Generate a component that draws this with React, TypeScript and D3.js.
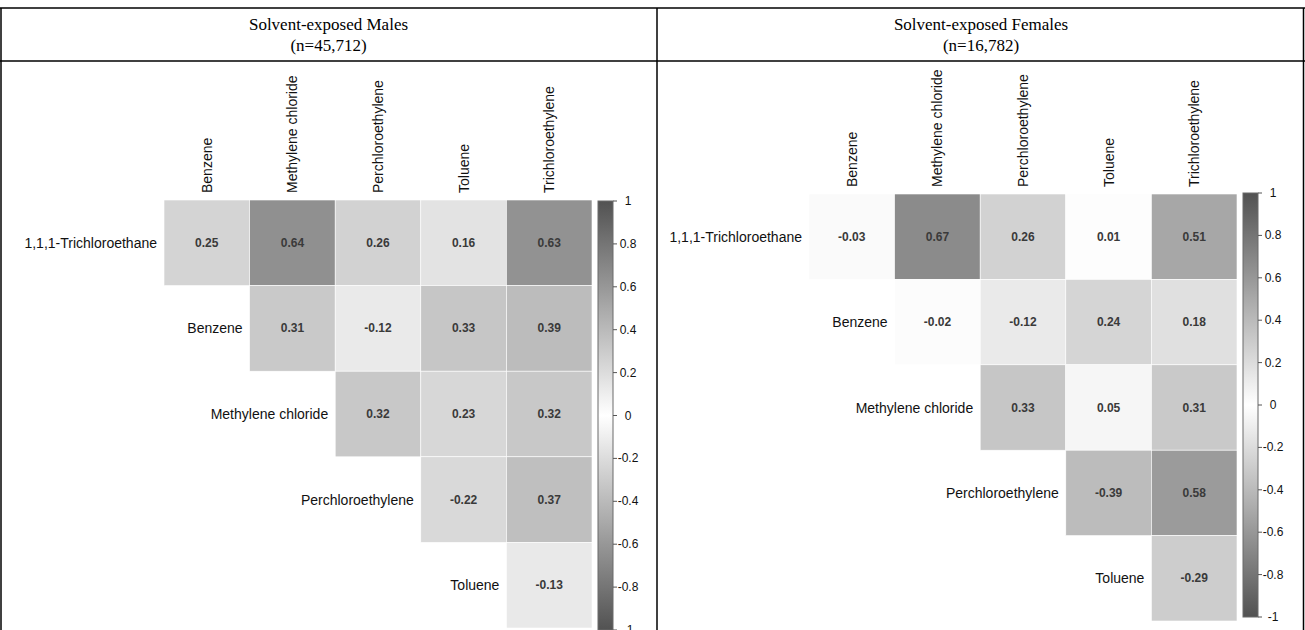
import React from "react";
import * as d3 from "d3";

const variables = [
  "1,1,1-Trichloroethane",
  "Benzene",
  "Methylene chloride",
  "Perchloroethylene",
  "Toluene",
  "Trichloroethylene",
];
const rowVars = variables.slice(0, 5);
const colVars = variables.slice(1);

// upper-triangle correlations, row i -> columns i..4 (colVars)
const malesCorr: number[][] = [
  [0.25, 0.64, 0.26, 0.16, 0.63],
  [0.31, -0.12, 0.33, 0.39],
  [0.32, 0.23, 0.32],
  [-0.22, 0.37],
  [-0.13],
];
const femalesCorr: number[][] = [
  [-0.03, 0.67, 0.26, 0.01, 0.51],
  [-0.02, -0.12, 0.24, 0.18],
  [0.33, 0.05, 0.31],
  [-0.39, 0.58],
  [-0.29],
];
const colorbarTicks = [1, 0.8, 0.6, 0.4, 0.2, 0, -0.2, -0.4, -0.6, -0.8, -1];
const panelTitles = ["Solvent-exposed Males", "Solvent-exposed Females"];
const panelNs = ["(n=45,712)", "(n=16,782)"];

const W = 1305;
const H = 630;
const SANS = "'Liberation Sans', Arial, sans-serif";
const SERIF = "'Liberation Serif', 'Times New Roman', serif";

const color = d3
  .scaleLinear<string>()
  .domain([-1, 0, 1])
  .range(["#525252", "#ffffff", "#525252"])
  .interpolate(d3.interpolateRgb);

const fmt = (v: number) => v.toFixed(2);

type PanelProps = {
  id: string;
  data: number[][];
  x0: number;
  x1: number;
  y0: number;
  y1: number;
  barX: number;
  barY0: number;
  barY1: number;
};

function CorrPanel({ id, data, x0, x1, y0, y1, barX, barY0, barY1 }: PanelProps) {
  const x = d3.scaleBand<string>().domain(colVars).range([x0, x1]);
  const y = d3.scaleBand<string>().domain(rowVars).range([y0, y1]);
  const bw = x.bandwidth();
  const bh = y.bandwidth();
  const cb = d3.scaleLinear().domain([-1, 1]).range([barY1, barY0]);
  const barW = 15;
  const gradStops = d3.range(-1, 1.0001, 0.1);

  const cells: React.ReactNode[] = [];
  data.forEach((row, i) => {
    row.forEach((v, k) => {
      const col = colVars[i + k];
      const rv = rowVars[i];
      cells.push(
        <g key={`${i}-${k}`}>
          <rect
            x={x(col)!}
            y={y(rv)!}
            width={bw}
            height={bh}
            fill={color(v)}
            stroke="#ffffff"
            strokeWidth={0.6}
          />
          <text
            x={x(col)! + bw / 2}
            y={y(rv)! + bh / 2}
            textAnchor="middle"
            dominantBaseline="central"
            fontFamily={SANS}
            fontWeight="bold"
            fontSize={12}
            fill="#3a3a3a"
          >
            {fmt(v)}
          </text>
        </g>
      );
    });
  });

  return (
    <g>
      <defs>
        <linearGradient id={`grad-${id}`} x1="0" y1="1" x2="0" y2="0">
          {gradStops.map((s, i) => (
            <stop key={i} offset={`${((s + 1) / 2) * 100}%`} stopColor={color(s)} />
          ))}
        </linearGradient>
      </defs>
      {cells}
      {colVars.map((c) => (
        <text
          key={c}
          transform={`translate(${x(c)! + bw / 2},${y0 - 7}) rotate(-90)`}
          dominantBaseline="central"
          fontFamily={SANS}
          fontSize={14}
          fill="#111"
        >
          {c}
        </text>
      ))}
      {rowVars.map((r, i) => (
        <text
          key={r}
          x={x(colVars[i])! - 7}
          y={y(r)! + bh / 2}
          textAnchor="end"
          dominantBaseline="central"
          fontFamily={SANS}
          fontSize={14}
          fill="#111"
        >
          {r}
        </text>
      ))}
      <rect
        x={barX}
        y={barY0}
        width={barW}
        height={barY1 - barY0}
        fill={`url(#grad-${id})`}
        stroke="#6a6a6a"
        strokeWidth={1}
      />
      {colorbarTicks.map((t) => (
        <g key={t}>
          <line x1={barX + barW} x2={barX + barW + 4} y1={cb(t)} y2={cb(t)} stroke="#555" strokeWidth={1} />
          <text
            x={barX + barW + 15}
            y={cb(t)}
            textAnchor="middle"
            dominantBaseline="central"
            fontFamily={SANS}
            fontSize={12}
            fill="#111"
          >
            {String(t)}
          </text>
        </g>
      ))}
    </g>
  );
}

export default function App() {
  const headerTop = 8;
  const headerBottom = 61;
  const divider = 657;
  return (
    <svg
      width={W}
      height={H}
      style={{ position: "absolute", left: 0, top: 0, background: "#fff" }}
    >
      <rect x={0} y={0} width={W} height={H} fill="#fff" />
      <line x1={0} x2={W} y1={headerTop} y2={headerTop} stroke="#000" strokeWidth={1.5} />
      <line x1={0} x2={W} y1={headerBottom} y2={headerBottom} stroke="#000" strokeWidth={1.5} />
      <line x1={1} x2={1} y1={headerTop} y2={H} stroke="#000" strokeWidth={1.5} />
      <line x1={divider} x2={divider} y1={headerTop} y2={H} stroke="#000" strokeWidth={1.5} />
      <line x1={W - 1.5} x2={W - 1.5} y1={headerTop} y2={H} stroke="#000" strokeWidth={1.5} />
      {panelTitles.map((t, i) => {
        const cx = i === 0 ? divider / 2 : (divider + W) / 2;
        return (
          <g key={t}>
            <text x={cx} y={24} textAnchor="middle" dominantBaseline="central" fontFamily={SERIF} fontSize={17} fill="#000">
              {t}
            </text>
            <text x={cx} y={45} textAnchor="middle" dominantBaseline="central" fontFamily={SERIF} fontSize={17} fill="#000">
              {panelNs[i]}
            </text>
          </g>
        );
      })}
      <CorrPanel id="m" data={malesCorr} x0={164} x1={592} y0={200} y1={628} barX={598} barY0={201} barY1={630} />
      <CorrPanel id="f" data={femalesCorr} x0={809} x1={1237} y0={194} y1={621} barX={1243} barY0={193} barY1={617} />
    </svg>
  );
}
